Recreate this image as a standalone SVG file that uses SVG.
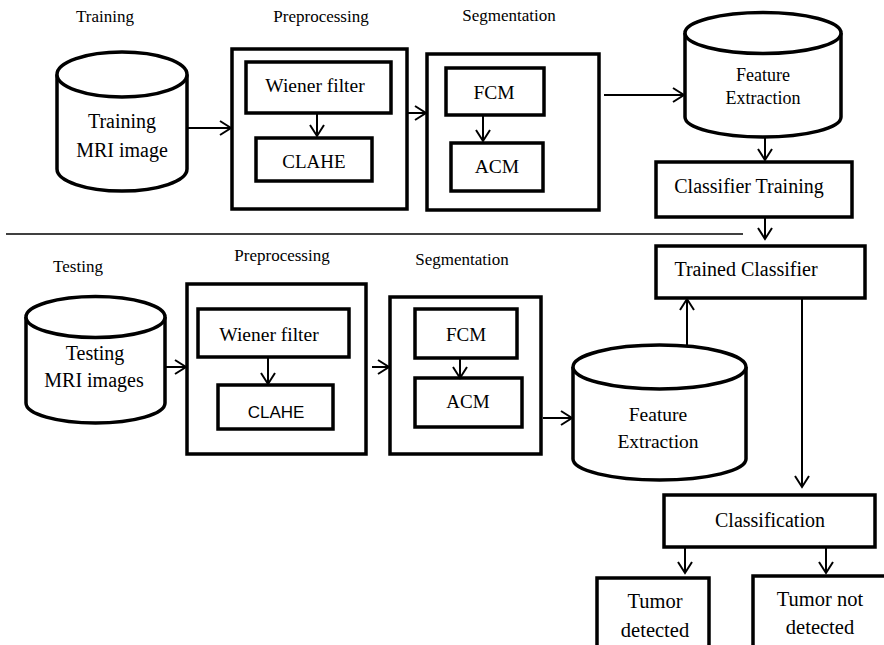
<svg xmlns="http://www.w3.org/2000/svg" width="884" height="645" viewBox="0 0 884 645">
<defs>
<marker id="arr" markerUnits="userSpaceOnUse" markerWidth="16" markerHeight="18" refX="12" refY="8" orient="auto">
<path d="M1,1 L12,8 L1,15" fill="none" stroke="#000" stroke-width="2"/>
</marker>
<style>
.box{fill:#fff;stroke:#000;stroke-width:3.5}
.cyl{fill:#fff;stroke:#000;stroke-width:3.5}
.t{font-family:"Liberation Serif","Times New Roman",serif;fill:#000;text-anchor:middle}
.s{font-family:"Liberation Sans",Arial,sans-serif;fill:#000;text-anchor:middle}
.lbl{font-size:17px}
.n{font-size:20px}
.c{stroke:#000;stroke-width:2;fill:none;marker-end:url(#arr)}
</style>
</defs>
<rect width="884" height="645" fill="#fff"/>

<g id="labels">
<text class="t lbl" x="105" y="22">Training</text>
<text class="t lbl" x="321" y="22">Preprocessing</text>
<text class="t lbl" x="509" y="21">Segmentation</text>
<text class="t lbl" x="78" y="272">Testing</text>
<text class="t lbl" x="282" y="261">Preprocessing</text>
<text class="t lbl" x="462" y="265">Segmentation</text>
</g>

<g id="separator">
<line x1="6" y1="234" x2="743" y2="234" stroke="#000" stroke-width="1.5"/>
</g>

<g id="training-mri">
<path class="cyl" d="M57,74.5 L57,169 A65,22 0 0 0 187,169 L187,74.5"/>
<ellipse class="cyl" cx="122" cy="74.5" rx="65" ry="22.5"/>
<text class="t n" x="122" y="128">Training</text>
<text class="t n" x="122" y="157">MRI image</text>
</g>

<g id="preprocessing-1">
<rect class="box" x="232" y="49" width="175" height="160"/>
</g>
<g id="wiener-1">
<rect class="box" x="246" y="62" width="145" height="51"/>
<text class="t" font-size="19.5" x="315" y="92">Wiener filter</text>
</g>
<g id="clahe-1">
<rect class="box" x="256" y="138" width="116" height="43"/>
<text class="t" font-size="19" x="314" y="168">CLAHE</text>
</g>

<g id="segmentation-1">
<rect class="box" x="427" y="54" width="172" height="156"/>
</g>
<g id="fcm-1">
<rect class="box" x="446" y="68" width="98" height="47"/>
<text class="t" font-size="19.5" x="494" y="99">FCM</text>
</g>
<g id="acm-1">
<rect class="box" x="451" y="143" width="92" height="48"/>
<text class="t" font-size="19.5" x="497" y="173">ACM</text>
</g>

<g id="feature-extraction-1">
<path class="cyl" d="M685,33 L685,117 A78,20 0 0 0 841,117 L841,33"/>
<ellipse class="cyl" cx="763" cy="33" rx="78" ry="20.5"/>
<text class="t" font-size="18" x="763" y="81">Feature</text>
<text class="t" font-size="18" x="763" y="104">Extraction</text>
</g>

<g id="classifier-training">
<rect class="box" x="656" y="162" width="196" height="55"/>
<text class="t n" x="749" y="193">Classifier Training</text>
</g>

<g id="trained-classifier">
<rect class="box" x="656" y="246" width="209" height="52"/>
<text class="t n" x="746" y="276">Trained Classifier</text>
</g>

<g id="testing-mri">
<path class="cyl" d="M26,317 L26,403 A69.5,20 0 0 0 165,403 L165,317"/>
<ellipse class="cyl" cx="95.5" cy="317" rx="69.5" ry="20.5"/>
<text class="t n" x="95" y="360">Testing</text>
<text class="t n" x="94" y="387">MRI images</text>
</g>

<g id="preprocessing-2">
<rect class="box" x="187" y="284" width="179" height="170"/>
</g>
<g id="wiener-2">
<rect class="box" x="198" y="309" width="151" height="48"/>
<text class="t" font-size="19.5" x="269" y="341">Wiener filter</text>
</g>
<g id="clahe-2">
<rect class="box" x="218" y="385" width="115" height="44"/>
<text class="s" font-size="17" x="276" y="418">CLAHE</text>
</g>

<g id="segmentation-2">
<rect class="box" x="390" y="297" width="151" height="157"/>
</g>
<g id="fcm-2">
<rect class="box" x="415" y="309" width="102" height="49"/>
<text class="t" font-size="19" x="466" y="341">FCM</text>
</g>
<g id="acm-2">
<rect class="box" x="415" y="378" width="107" height="49"/>
<text class="t" font-size="19" x="468" y="408">ACM</text>
</g>

<g id="feature-extraction-2">
<path class="cyl" d="M573,367 L573,459 A86.5,21 0 0 0 746,459 L746,367"/>
<ellipse class="cyl" cx="659.5" cy="367" rx="86.5" ry="22"/>
<text class="t" font-size="19.5" x="658" y="421">Feature</text>
<text class="t" font-size="19.5" x="658" y="448">Extraction</text>
</g>

<g id="classification">
<rect class="box" x="664" y="495" width="211" height="52"/>
<text class="t n" x="770" y="527">Classification</text>
</g>

<g id="tumor-detected">
<rect class="box" x="597" y="578" width="112" height="90"/>
<text class="t" font-size="20.5" x="655" y="608">Tumor</text>
<text class="t" font-size="20.5" x="655" y="637">detected</text>
</g>

<g id="tumor-not-detected">
<rect class="box" x="753" y="576" width="150" height="90"/>
<text class="t" font-size="20.5" x="820" y="606">Tumor not</text>
<text class="t" font-size="20.5" x="820" y="634">detected</text>
</g>

<g id="connectors">
<line class="c" x1="188" y1="128" x2="231" y2="128"/>
<line class="c" x1="317" y1="113" x2="317" y2="136"/>
<line class="c" x1="407" y1="113" x2="426" y2="113"/>
<line class="c" x1="483" y1="115" x2="483" y2="141"/>
<line class="c" x1="604" y1="95" x2="684" y2="95"/>
<line class="c" x1="765" y1="137" x2="765" y2="160"/>
<line class="c" x1="765" y1="217" x2="765" y2="239"/>
<line class="c" x1="165" y1="367" x2="186" y2="367"/>
<line class="c" x1="268" y1="357" x2="268" y2="384"/>
<line class="c" x1="372" y1="367" x2="389" y2="367"/>
<line class="c" x1="460" y1="358" x2="460" y2="378"/>
<line class="c" x1="543" y1="418" x2="572" y2="418"/>
<line class="c" x1="687" y1="345" x2="687" y2="299"/>
<line class="c" x1="802" y1="298" x2="802" y2="487"/>
<line class="c" x1="685" y1="547" x2="685" y2="573"/>
<line class="c" x1="826" y1="547" x2="826" y2="573"/>
</g>
</svg>
